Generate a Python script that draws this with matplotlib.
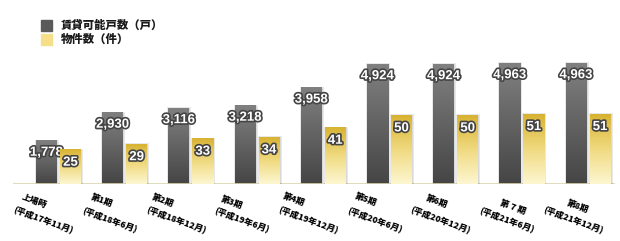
import numpy as np
import matplotlib
matplotlib.use("Agg")
import matplotlib.pyplot as plt
import matplotlib.patheffects as pe
from matplotlib.colors import LinearSegmentedColormap

plt.rcParams['font.family'] = ['Noto Sans CJK JP', 'DejaVu Sans']

# ---- data ----
periods = ["上場時", "第1期", "第2期", "第3期", "第4期", "第5期", "第6期", "第 7 期", "第8期"]
dates = ["(平成17年11月)", "(平成18年6月)", "(平成18年12月)", "(平成19年6月)", "(平成19年12月)",
         "(平成20年6月)", "(平成20年12月)", "(平成21年6月)", "(平成21年12月)"]
units = [1778, 2930, 3116, 3218, 3958, 4924, 4924, 4963, 4963]
properties = [25, 29, 33, 34, 41, 50, 50, 51, 51]
series_names = ["賃貸可能戸数（戸）", "物件数（件）"]

# ---- layout ----
W, H = 620, 241
fig = plt.figure(figsize=(W / 100, H / 100), dpi=100)
ax_left, ax_right, ax_bottom, ax_top = 13, 615, 184, 10
ax = fig.add_axes([ax_left / W, (H - ax_bottom) / H, (ax_right - ax_left) / W, (ax_bottom - ax_top) / H])
ax2 = ax.twinx()
for a in (ax, ax2):
    a.set_axis_off()

step = 66.2
x0 = 58.5
ph = ax_bottom - ax_top
bw = 21 / step
off = 12 / step
x = np.arange(len(units))

dark_cmap = LinearSegmentedColormap.from_list("dk", ["#454545", "#808080"])
gold_cmap = LinearSegmentedColormap.from_list("gd", ["#fdf7d2", "#f0da80", "#d8b332"])
grad = np.linspace(0, 1, 256).reshape(-1, 1)

def gradient_bars(axis, xs, vals, cmap):
    bars = axis.bar(xs, vals, width=bw, color="none", edgecolor="none", zorder=3)
    for b in bars:
        bx, by = b.get_x(), b.get_y()
        bwid, bh = b.get_width(), b.get_height()
        axis.bar(bx + bwid / 2, bh, width=bwid, color="#000000", alpha=0.10,
                 edgecolor="#000000", linewidth=2.0, zorder=2)
        axis.imshow(grad, extent=(bx, bx + bwid, by, by + bh), origin="lower",
                    aspect="auto", cmap=cmap, zorder=3, interpolation="bicubic")
    return bars

gradient_bars(ax, x - off, units, dark_cmap)
gradient_bars(ax2, x + off, properties, gold_cmap)
ax.set_xlim((ax_left - x0) / step, (ax_right - x0) / step)
ax2.set_xlim(ax.get_xlim())
ax.set_ylim(0, ph * 41.1)
ax2.set_ylim(0, ph / 1.372)

# baseline
ax.axhline(0, color="#d9d5ae", linewidth=1.2, zorder=4)

shadow = [pe.withStroke(linewidth=2.4, foreground="#444444")]
for xi, v in zip(x, units):
    ax.annotate(f"{v:,}", xy=(xi - off, v), xytext=(0, -12), textcoords="offset pixels",
                ha="center", va="center", color="white", fontsize=9.5, fontweight="bold",
                family=["Liberation Sans"], path_effects=shadow, zorder=6)
for xi, v in zip(x, properties):
    ax2.annotate(f"{v}", xy=(xi + off, v), xytext=(0, -13), textcoords="offset pixels",
                 ha="center", va="center", color="white", fontsize=9.5, fontweight="bold",
                 family=["Liberation Sans"], path_effects=shadow, zorder=6)

# x labels (rotated, two lines)
line1_dx = [-24.5, -23, -28, -25.6, -29, -23.5, -19, -9, -10]
line1_dy = [17, 17, 16.5, 19, 16, 16, 18, 23, 23]
for xi, p, d, dx, dy in zip(x, periods, dates, line1_dx, line1_dy):
    ax.annotate(p, xy=(xi, 0), xytext=(dx, -dy), textcoords="offset pixels",
                ha="center", va="center", rotation=-20, rotation_mode="anchor",
                fontsize=6.3, fontweight="heavy", color="#000000", annotation_clip=False)
    ax.annotate(d, xy=(xi, 0), xytext=(-15, -36), textcoords="offset pixels",
                ha="center", va="center", rotation=-20, rotation_mode="anchor",
                fontsize=6.3, fontweight="heavy", color="#000000", annotation_clip=False)

# legend
lx, ly = 41, 20
fig.patches.append(plt.Rectangle((lx / W, (H - ly - 10.5) / H), 11 / W, 10.5 / H,
                                 transform=fig.transFigure, color="#5a5a5a"))
fig.patches.append(plt.Rectangle((lx / W, (H - ly - 14 - 10.5) / H), 11 / W, 10.5 / H,
                                 transform=fig.transFigure, color="#f6df8a"))
fig.text(61 / W, (H - 25) / H, series_names[0], ha="left", va="center",
         fontsize=8.2, fontweight="heavy", color="#1a1a1a")
fig.text(61 / W, (H - 39) / H, series_names[1], ha="left", va="center",
         fontsize=8.2, fontweight="heavy", color="#1a1a1a")

fig.savefig("out.png", dpi=100, facecolor="white")
